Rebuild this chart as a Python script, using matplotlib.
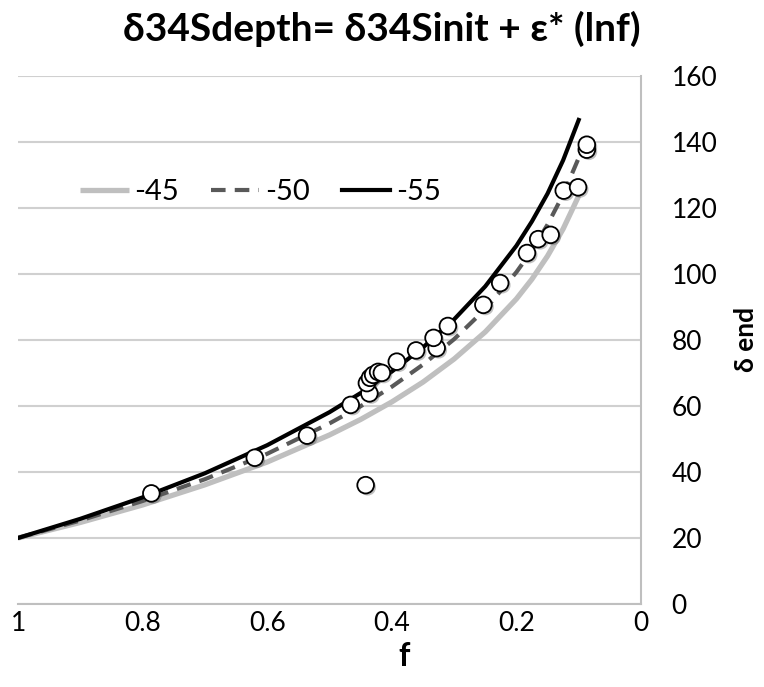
import matplotlib
matplotlib.use("Agg")
import matplotlib.pyplot as plt
import matplotlib.patheffects as pe

plt.rcParams['font.family'] = ['Lato', 'DejaVu Sans']

# model curves (f, delta end) for eps* = -45, -50, -55
f_model = [1, 0.9, 0.8, 0.7, 0.6, 0.5, 0.45, 0.4, 0.35, 0.3, 0.25, 0.2, 0.175, 0.15, 0.125, 0.1]
d_45 = [20, 24.7, 30.0, 36.1, 43.0, 51.2, 55.9, 61.2, 67.2, 74.2, 82.4, 92.4, 98.4, 105.4, 113.6, 123.6]
d_50 = [20, 25.3, 31.2, 37.8, 45.5, 54.7, 59.9, 65.8, 72.5, 80.2, 89.3, 100.5, 107.1, 114.9, 124.0, 135.1]
d_55 = [20, 25.8, 32.3, 39.6, 48.1, 58.1, 63.9, 70.4, 77.7, 86.2, 96.2, 108.5, 115.9, 124.3, 134.4, 146.6]

# measured samples
f_obs = [0.786, 0.620, 0.536, 0.466, 0.442, 0.436, 0.440, 0.435, 0.430, 0.422, 0.416,
         0.392, 0.361, 0.328, 0.333, 0.310, 0.253, 0.226, 0.183, 0.165, 0.145,
         0.124, 0.101, 0.087, 0.087]
d_obs = [33.5, 44.3, 51.0, 60.3, 36.0, 63.8, 66.9, 68.5, 69.4, 70.3, 70.0,
         73.4, 76.8, 77.5, 80.6, 84.2, 90.6, 97.2, 106.3, 110.5, 111.8,
         125.2, 126.2, 137.6, 139.1]

fig = plt.figure(figsize=(7.64, 6.87), dpi=100)
ax = fig.add_axes([0.0236, 0.1208, 0.8154, 0.769])

ax.plot(f_model, d_45, color='#bfbfbf', lw=3.8, label='-45', solid_capstyle='butt')
ax.plot(f_model, d_50, color='#595959', lw=3.0, ls=(0, (3.5, 2.2)), label='-50')
ax.plot(f_model, d_55, color='black', lw=3.0, label='-55')
ax.plot(f_obs, d_obs, 'o', ms=12, mfc='white', mec='black', mew=1.3, zorder=5,
        path_effects=[pe.SimplePatchShadow(offset=(1.5, -1.5), alpha=0.35), pe.Normal()])

ax.set_xlim(1, 0)
ax.set_ylim(0, 160)
ax.set_xticks([1, 0.8, 0.6, 0.4, 0.2, 0])
ax.set_xticklabels(['1', '0.8', '0.6', '0.4', '0.2', '0'])
ax.set_yticks(range(0, 161, 20))
ax.yaxis.tick_right()
ax.yaxis.set_label_position('right')
ax.tick_params(axis='both', length=0, labelsize=19)
ax.tick_params(axis='y', pad=22)
ax.tick_params(axis='x', pad=5)
ax.grid(axis='y', color='#d0d0d0', lw=1.5)
ax.set_axisbelow(True)
for s in ['top', 'left']:
    ax.spines[s].set_visible(False)
for s in ['right', 'bottom']:
    ax.spines[s].set_color('#bfbfbf')
    ax.spines[s].set_linewidth(1.5)

ax.set_xlabel('f', fontsize=23, fontweight='bold')
ax.xaxis.set_label_coords(0.62, -0.072)
ax.set_ylabel('δ end', fontsize=19, fontweight='bold', labelpad=12)
fig.suptitle('δ34Sdepth= δ34Sinit + ε* (lnf)', fontsize=28, fontweight='bold', x=0.5, y=0.985)

ax.legend(loc='center left', bbox_to_anchor=(0.058, 0.78), ncol=3, frameon=False,
          fontsize=21, handlelength=1.65, handletextpad=0.2, columnspacing=1.1)

fig.savefig('out.png', dpi=100)
